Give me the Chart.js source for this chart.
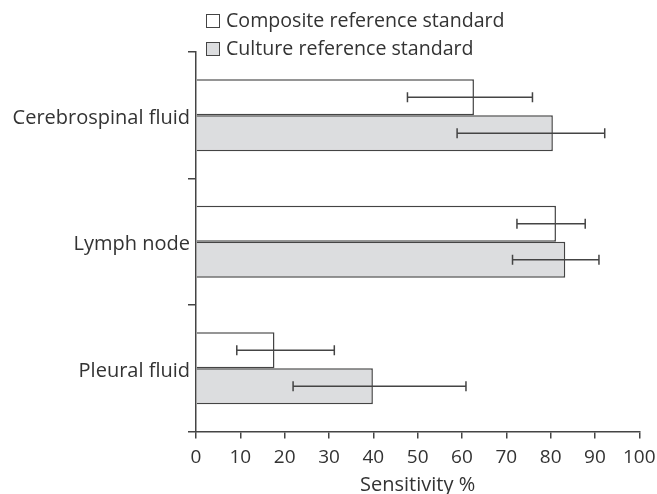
<!DOCTYPE html>
<html>
<head>
<meta charset="utf-8">
<script src="https://cdn.jsdelivr.net/npm/chart.js@4/dist/chart.umd.min.js"></script>
<style>
  body { margin: 0; background: #fff; }
  #wrap { position: relative; width: 657px; height: 494px; }
  #legend { position: absolute; left: 206px; top: 6px; font-family: "Open Sans", sans-serif; font-size: 19.6px; color: #333; }
  #legend div { height: 28px; line-height: 28px; white-space: nowrap; }
  #legend span.box { display: inline-block; width: 12px; height: 12px; border: 1px solid #444; vertical-align: -1px; margin-right: 6px; }
</style>
</head>
<body>
<div id="wrap">
  <canvas id="myChart" width="657" height="494"></canvas>
  <div id="legend">
    <div><span class="box" style="background:#fff"></span>Composite reference standard</div>
    <div><span class="box" style="background:#dcdddf"></span>Culture reference standard</div>
  </div>
</div>
<script>
// Sites sampled
var sites = ['Cerebrospinal fluid', 'Lymph node', 'Pleural fluid'];

// Sensitivity % against the composite reference standard, with 95% CI
var composite = [62.7, 81.2, 17.7];
var compositeLow = [47.7, 72.4, 9.2];
var compositeHigh = [75.9, 87.8, 31.2];

// Sensitivity % against the culture reference standard, with 95% CI
var culture = [80.5, 83.3, 39.9];
var cultureLow = [58.9, 71.4, 21.9];
var cultureHigh = [92.2, 90.9, 60.9];

var xTicks = [0, 10, 20, 30, 40, 50, 60, 70, 80, 90, 100];

var lowHigh = [[compositeLow, compositeHigh], [cultureLow, cultureHigh]];

// error bars drawn on top of the bars
var errorBars = {
  id: 'errorBars',
  afterDatasetsDraw: function(chart) {
    var ctx = chart.ctx;
    var x = chart.scales.x;
    ctx.save();
    ctx.strokeStyle = '#444';
    ctx.lineWidth = 1.5;
    chart.data.datasets.forEach(function(ds, i) {
      var meta = chart.getDatasetMeta(i);
      meta.data.forEach(function(bar, j) {
        var x1 = x.getPixelForValue(lowHigh[i][0][j]);
        var x2 = x.getPixelForValue(lowHigh[i][1][j]);
        var y = bar.y;
        ctx.beginPath();
        ctx.moveTo(x1, y); ctx.lineTo(x2, y);
        ctx.moveTo(x1, y - 5); ctx.lineTo(x1, y + 5);
        ctx.moveTo(x2, y - 5); ctx.lineTo(x2, y + 5);
        ctx.stroke();
      });
    });
    ctx.restore();
  }
};

Chart.defaults.font.family = '"Open Sans", sans-serif';
Chart.defaults.color = '#333';

var ctx = document.getElementById('myChart');
var myChart = new Chart(ctx, {
  type: 'bar',
  data: {
    labels: sites,
    datasets: [
      {
        label: 'Composite reference standard',
        data: composite,
        backgroundColor: '#ffffff',
        borderColor: '#444',
        borderWidth: 1.5
      },
      {
        label: 'Culture reference standard',
        data: culture,
        backgroundColor: '#dcdddf',
        borderColor: '#444',
        borderWidth: 1.5
      }
    ]
  },
  options: {
    indexAxis: 'y',
    responsive: false,
    animation: false,
    categoryPercentage: 0.571,
    barPercentage: 1,
    layout: { padding: { top: 52, right: 17.7, left: 0, bottom: 0 } },
    plugins: {
      legend: { display: false },
      tooltip: { enabled: false }
    },
    scales: {
      x: {
        min: 0,
        max: 100,
        afterBuildTicks: function(scale) {
          scale.ticks = xTicks.map(function(v) { return { value: v }; });
        },
        afterFit: function(scale) {
          scale.height = 62.5;
          scale.paddingLeft = 0;
          scale.paddingRight = 0;
        },
        grid: { drawOnChartArea: false, tickLength: 7, color: '#444', lineWidth: 1.5 },
        border: { color: '#444', width: 1.5 },
        ticks: { font: { size: 19 }, padding: 8, maxRotation: 0 },
        title: { display: true, text: 'Sensitivity %', font: { size: 20 }, padding: { top: 0, bottom: -3 } }
      },
      y: {
        afterFit: function(scale) { scale.width = 196; },
        grid: { drawOnChartArea: false, tickLength: 8, color: '#444', lineWidth: 1.5, offset: true },
        border: { color: '#444', width: 1.5 },
        ticks: { font: { size: 20 }, padding: -2, labelOffset: 3 }
      }
    }
  },
  plugins: [errorBars]
});
</script>
</body>
</html>
